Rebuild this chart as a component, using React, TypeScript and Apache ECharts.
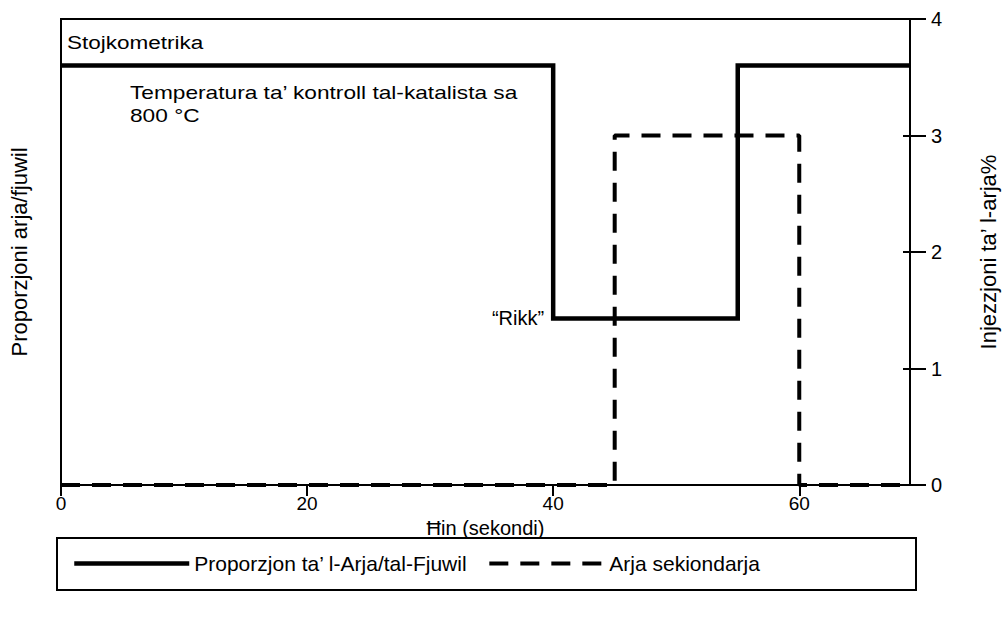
import React, { useEffect, useRef } from "react";
import * as echarts from "echarts";

// Time breakpoints (seconds) and values for each step series
const solidTimes = [0, 40, 40, 55, 55, 69];
const solidValues = [3.6, 3.6, 1.43, 1.43, 3.6, 3.6];
const dashedTimes = [0, 45, 45, 60, 60, 69];
const dashedValues = [0, 0, 3, 3, 0, 0];
const xTicks = [0, 20, 40, 60];
const yTicks = [0, 1, 2, 3, 4];
const seriesNames = ["Proporzjon ta\u2019 l-Arja/tal-Fjuwil", "Arja sekiondarja"];
const rikkPoint = [40, 1.43];

const FONT = "Liberation Sans, Arial, sans-serif";
const DASH = [19, 12];

export default function App() {
  const ref = useRef<HTMLDivElement>(null);
  useEffect(() => {
    if (!ref.current) return;
    const chart = echarts.init(ref.current, undefined, { renderer: "svg" });
    const tickStyle = { color: "#000", width: 2 };
    chart.setOption({
      animation: false,
      textStyle: { fontFamily: FONT, color: "#000" },
      grid: {
        left: 59,
        right: 93,
        top: 19,
        bottom: 152,
        containLabel: false,
        show: true,
        borderColor: "#000",
        borderWidth: 2,
        backgroundColor: "transparent",
      },
      xAxis: [
        {
          type: "value",
          min: 0,
          max: 69,
          interval: 20,
          position: "bottom",
          axisLine: { show: false, onZero: false },
          axisTick: { show: true, length: 11, inside: false, customValues: xTicks, lineStyle: tickStyle },
          axisLabel: { customValues: xTicks, fontSize: 19, color: "#000", margin: 9, fontFamily: FONT },
          splitLine: { show: false },
          name: "\u0126in (sekondi)",
          nameLocation: "middle",
          nameGap: 26,
          nameTextStyle: { fontSize: 20, color: "#000", fontFamily: FONT },
        },
      ],
      yAxis: [
        {
          type: "value",
          min: 0,
          max: 4,
          interval: 1,
          position: "left",
          axisLine: { show: false, onZero: false },
          axisTick: { show: false },
          axisLabel: { show: false },
          splitLine: { show: false },
          name: "Proporzjoni arja/fjuwil",
          nameLocation: "middle",
          nameGap: 31,
          nameTextStyle: { fontSize: 22, color: "#000", fontFamily: FONT },
        },
        {
          type: "value",
          min: 0,
          max: 4,
          interval: 1,
          position: "right",
          axisLine: { show: false, onZero: false },
          axisTick: { show: true, length: 16, inside: false, customValues: yTicks, lineStyle: tickStyle },
          axisLabel: { customValues: yTicks, fontSize: 20, color: "#000", margin: 21, fontFamily: FONT },
          splitLine: { show: false },
          name: "Injezzjoni ta\u2019 l-arja%",
          nameLocation: "middle",
          nameGap: 67,
          nameRotate: -270,
          nameTextStyle: { fontSize: 22, color: "#000", fontFamily: FONT },
        },
        {
          type: "value",
          min: 0,
          max: 4,
          interval: 1,
          position: "right",
          axisLine: { show: false, onZero: false },
          axisTick: { show: true, length: 7, inside: true, customValues: yTicks, lineStyle: tickStyle },
          axisLabel: { show: false },
          splitLine: { show: false },
        },
      ],
      legend: {
        left: 72,
        top: 553,
        padding: 0,
        itemWidth: 115,
        itemHeight: 24,
        itemGap: 20,
        itemStyle: { color: "rgba(0,0,0,0)", borderWidth: 0, opacity: 0 },
        textStyle: { fontSize: 21, color: "#000", fontFamily: FONT },
        data: [
          { name: seriesNames[0], lineStyle: { width: 4.5, type: "solid", color: "#000" } },
          { name: seriesNames[1], lineStyle: { width: 4, type: DASH, color: "#000" } },
        ],
      },
      graphic: [
        {
          type: "rect",
          shape: { x: 57, y: 538, width: 859, height: 52 },
          style: { fill: "none", stroke: "#000", lineWidth: 2 },
        },
        {
          type: "text",
          x: 67,
          y: 43,
          scaleX: 1.25,
          style: { text: "Stojkometrika", font: `18px ${FONT}`, fill: "#000", verticalAlign: "middle" },
        },
        {
          type: "text",
          x: 130,
          y: 92,
          scaleX: 1.26,
          style: { text: "Temperatura ta\u2019 kontroll tal-katalista sa", font: `18px ${FONT}`, fill: "#000", verticalAlign: "middle" },
        },
        {
          type: "text",
          x: 130,
          y: 115,
          scaleX: 1.26,
          style: { text: "800 \u00B0C", font: `18px ${FONT}`, fill: "#000", verticalAlign: "middle" },
        },
      ],
      series: [
        {
          name: seriesNames[0],
          type: "line",
          xAxisIndex: 0,
          yAxisIndex: 1,
          data: solidTimes.map((t, i) => [t, solidValues[i]]),
          showSymbol: false,
          symbol: "none",
          lineStyle: { color: "#000", width: 4.5, type: "solid", join: "miter" },
          itemStyle: { color: "#000" },
          markPoint: {
            symbol: "circle",
            symbolSize: 0,
            data: [{ coord: rikkPoint }],
            label: {
              show: true,
              position: "left",
              distance: 9,
              formatter: "\u201CRikk\u201D",
              fontSize: 20,
              color: "#000",
              fontFamily: FONT,
            },
          },
        },
        {
          name: seriesNames[1],
          type: "line",
          xAxisIndex: 0,
          yAxisIndex: 1,
          data: dashedTimes.map((t, i) => [t, dashedValues[i]]),
          showSymbol: false,
          symbol: "none",
          lineStyle: { color: "#000", width: 4, type: DASH },
          itemStyle: { color: "#000" },
        },
      ],
    });
    return () => chart.dispose();
  }, []);
  return <div ref={ref} style={{ width: 1007, height: 637, position: "absolute", left: 0, top: 0 }} />;
}
